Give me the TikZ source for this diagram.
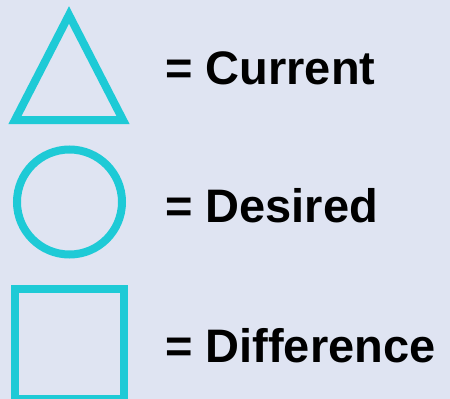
\documentclass[tikz,border=0pt]{standalone}
\usepackage{fontspec}
\setmainfont{Liberation Sans}
\usetikzlibrary{positioning}
\definecolor{legendbg}{HTML}{DFE4F2}
\definecolor{legendcyan}{HTML}{1ECAD6}

\begin{document}
\begin{tikzpicture}[
    x=1pt, y=-1pt,
    shapeline/.style={draw=legendcyan, line width=8pt, line join=miter},
    label/.style={anchor=base west, inner sep=0pt, font=\fontsize{47}{52}\selectfont\bfseries, text=black}
]
    \fill[legendbg] (0,0) rectangle (450,399);
    \useasboundingbox (0,0) rectangle (450,399);

    % legend symbols
    \draw[shapeline] (69,15) -- (123,120) -- (15,120) -- cycle;
    \draw[shapeline] (69.5,202) circle[radius=52.5];
    \begin{scope}
        \clip (0,0) rectangle (450,399);
        \draw[shapeline] (15,288.5) rectangle (124,398.5);
    \end{scope}

    % legend texts
    \node[label] (current) at (165,84) {= Current};
    \node[label] (desired) at (165,222) {= Desired};
    \node[label] (difference) at (165,362) {= Difference};
\end{tikzpicture}
\end{document}
